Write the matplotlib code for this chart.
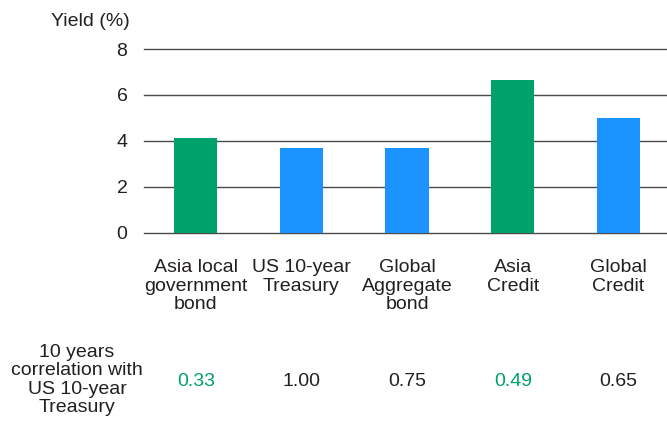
import matplotlib.pyplot as plt
import numpy as np

plt.rcParams['font.family'] = ['Liberation Sans', 'DejaVu Sans']

categories = ['Asia local\ngovernment\nbond', 'US 10-year\nTreasury', 'Global\nAggregate\nbond',
              'Asia\nCredit', 'Global\nCredit']
yields = [4.15, 3.7, 3.7, 6.65, 5.0]
correlations = ['0.33', '1.00', '0.75', '0.49', '0.65']
is_asia = [True, False, False, True, False]

green = '#00A26C'
blue = '#1A93FF'
text_col = '#231f20'
fs = 14

fig = plt.figure(figsize=(6.67, 4.21), dpi=100)
ax = fig.add_axes([0.216, 0.4466, 0.784, 0.437])

x = np.arange(len(categories))
colors = [green if a else blue for a in is_asia]
ax.bar(x, yields, width=0.41, color=colors, zorder=3)

ax.set_ylim(0, 8)
ax.set_xlim(-0.49, 4.46)
ax.set_yticks([0, 2, 4, 6, 8])
for t in [0, 2, 4, 6, 8]:
    ax.axhline(t, color='#4a4a4a', lw=1.0, zorder=1, clip_on=False)

for s in ax.spines.values():
    s.set_visible(False)
ax.tick_params(axis='y', length=0, pad=12, labelsize=fs, labelcolor=text_col)
ax.set_xticks([])

# category labels under bars
for i, c in enumerate(categories):
    xf = ax.transData.transform((i, 0))[0] / fig.bbox.width
    fig.text(xf, 1 - 259 / 421, c, ha='center', va='top', fontsize=fs, color=text_col,
             linespacing=1.12)

fig.text(130 / 667, 1 - 21 / 421, 'Yield (%)', ha='right', va='center', fontsize=fs, color=text_col)

# correlation row
fig.text(77 / 667, 1 - 380 / 421, '10 years\ncorrelation with\nUS 10-year\nTreasury',
         ha='center', va='center', fontsize=fs, color=text_col, linespacing=1.1)
for i, v in enumerate(correlations):
    xf = ax.transData.transform((i, 0))[0] / fig.bbox.width
    fig.text(xf, 1 - 381 / 421, v, ha='center', va='center', fontsize=fs,
             color=green if is_asia[i] else text_col)

fig.savefig('out.png', dpi=100)
